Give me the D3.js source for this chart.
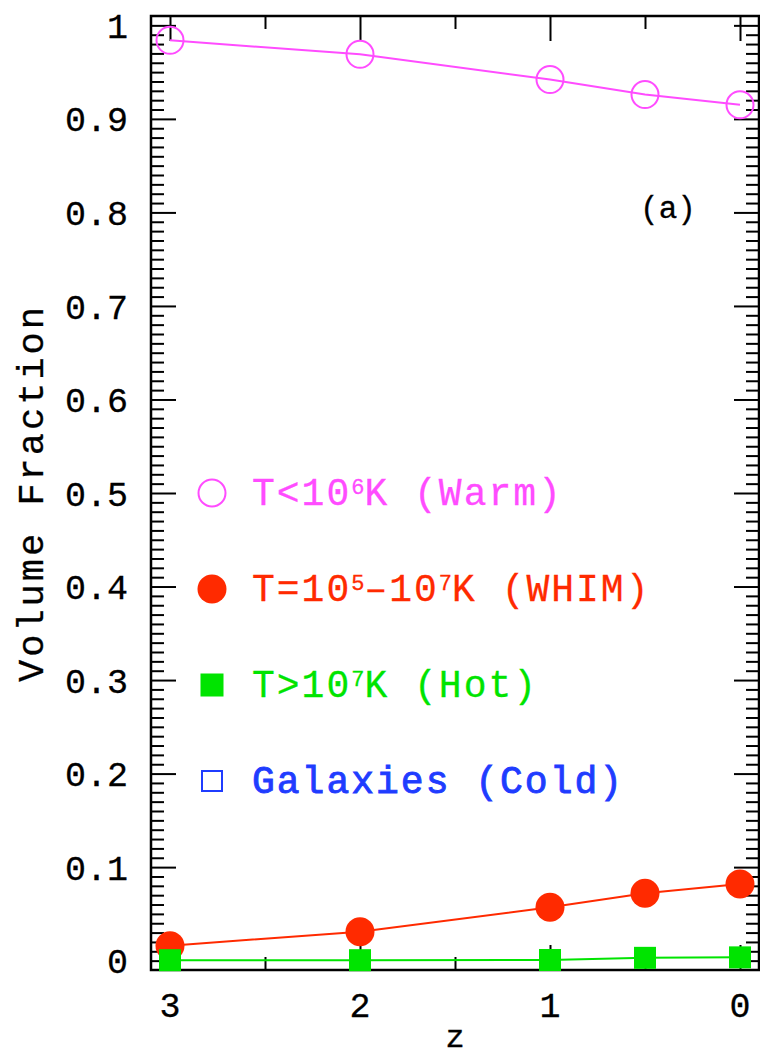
<!DOCTYPE html>
<html>
<head>
<meta charset="utf-8">
<script src="https://cdn.jsdelivr.net/npm/d3@7"></script>
<style>
  html, body { margin: 0; padding: 0; background: #fff; }
  svg { display: block; }
  text { font-family: "Liberation Mono", "DejaVu Sans Mono", monospace; }
</style>
</head>
<body>
<svg id="chart" width="760" height="1058"></svg>
<script>
// Redshift samples and volume fractions of each gas phase
const redshifts = [3, 2, 1, 0.5, 0];
const warmFraction = [0.984, 0.969, 0.942, 0.926, 0.915];
const whimFraction = [0.016, 0.031, 0.057, 0.072, 0.082];
const hotFraction = [0.0005, 0.0005, 0.0007, 0.0030, 0.0035];

// Axis ticks
const xMajorTicks = [3, 2, 1, 0];
const xTickLabels = ["3", "2", "1", "0"];
const xMinorTicks = [2.5, 1.5, 0.5];
const yMajorTicks = [0, 0.1, 0.2, 0.3, 0.4, 0.5, 0.6, 0.7, 0.8, 0.9, 1];
const yTickLabels = ["0", "0.1", "0.2", "0.3", "0.4", "0.5", "0.6", "0.7", "0.8", "0.9", "1"];
const yMinorTicks = d3.range(0, 101).filter(i => i % 10 !== 0).map(i => i / 100);

// Legend entries: text pieces, superscript flag
const legendNames = ["warm", "whim", "hot", "cold"];
const legendTexts = [
  [["T<10", false], ["6", true], ["K (Warm)", false]],
  [["T=10", false], ["5", true], ["\u201310", false], ["7", true], ["K (WHIM)", false]],
  [["T>10", false], ["7", true], ["K (Hot)", false]],
  [["Galaxies (Cold)", false]]
];
const legendColors = ["#ff4cff", "#ff2a00", "#00e400", "#1f3cff"];

const svg = d3.select("#chart");
const W = 760, H = 1058;
svg.append("rect").attr("width", W).attr("height", H).attr("fill", "#fff");

const plotLeft = 151, plotRight = 759, plotTop = 16, plotBottom = 970;
const x = d3.scaleLinear().domain([3.1, -0.1]).range([plotLeft, plotRight]);
const y = d3.scaleLinear().domain([-0.01, 1.01]).range([plotBottom, plotTop]);

const MAJ = 25, MIN = 13;
const axisG = svg.append("g");

function drawAxis(gen, transform) {
  const g = axisG.append("g").attr("transform", transform).call(gen);
  g.selectAll("text").remove();
  g.select(".domain").remove();
  g.selectAll("line").attr("stroke", "#000").attr("stroke-width", 2);
  return g;
}

// left / right ticks (pointing inward)
drawAxis(d3.axisLeft(y).tickValues(yMajorTicks).tickSize(-MAJ), `translate(${plotLeft},0)`);
drawAxis(d3.axisLeft(y).tickValues(yMinorTicks).tickSize(-MIN), `translate(${plotLeft},0)`);
drawAxis(d3.axisRight(y).tickValues(yMajorTicks).tickSize(-MAJ), `translate(${plotRight},0)`);
drawAxis(d3.axisRight(y).tickValues(yMinorTicks).tickSize(-MIN), `translate(${plotRight},0)`);
// bottom / top ticks
drawAxis(d3.axisBottom(x).tickValues(xMajorTicks).tickSize(-MAJ), `translate(0,${plotBottom})`);
drawAxis(d3.axisBottom(x).tickValues(xMinorTicks).tickSize(-MIN), `translate(0,${plotBottom})`);
drawAxis(d3.axisTop(x).tickValues(xMajorTicks).tickSize(-MAJ), `translate(0,${plotTop})`);
drawAxis(d3.axisTop(x).tickValues(xMinorTicks).tickSize(-MIN), `translate(0,${plotTop})`);

// frame
axisG.append("rect")
  .attr("x", plotLeft).attr("y", plotTop)
  .attr("width", plotRight - plotLeft).attr("height", plotBottom - plotTop)
  .attr("fill", "none").attr("stroke", "#000").attr("stroke-width", 2.5);

// tick labels
svg.append("g").selectAll("text").data(yMajorTicks).join("text")
  .attr("x", 128).attr("y", d => y(d)).attr("dy", "0.36em")
  .attr("text-anchor", "end").attr("font-size", 35)
  .attr("fill", "#000").attr("stroke", "#000").attr("stroke-width", 0.3)
  .text((d, i) => yTickLabels[i]);

svg.append("g").selectAll("text").data(xMajorTicks).join("text")
  .attr("x", d => x(d)).attr("y", 1017)
  .attr("text-anchor", "middle").attr("font-size", 35)
  .attr("fill", "#000").attr("stroke", "#000").attr("stroke-width", 0.3)
  .text((d, i) => xTickLabels[i]);

// axis titles
svg.append("text")
  .attr("transform", "translate(43,493) rotate(-90)")
  .attr("text-anchor", "middle").attr("font-size", 37)
  .attr("letter-spacing", 3)
  .attr("fill", "#000").attr("stroke", "#000").attr("stroke-width", 0.3)
  .text("Volume Fraction");
svg.append("text")
  .attr("x", 455).attr("y", 1047)
  .attr("text-anchor", "middle").attr("font-size", 32)
  .attr("fill", "#000").attr("stroke", "#000").attr("stroke-width", 0.3)
  .text("z");

// panel tag
svg.append("text")
  .attr("x", 668).attr("y", 218)
  .attr("text-anchor", "middle").attr("font-size", 31)
  .attr("fill", "#000").attr("stroke", "#000").attr("stroke-width", 0.3)
  .text("(a)");

// series lines and markers
const line = d3.line().x(d => x(d[0])).y(d => y(d[1]));
const dataG = svg.append("g");
function pts(vals) { return redshifts.map((z, i) => [z, vals[i]]); }

dataG.append("path").datum(pts(warmFraction)).attr("d", line)
  .attr("fill", "none").attr("stroke", legendColors[0]).attr("stroke-width", 2);
dataG.append("path").datum(pts(whimFraction)).attr("d", line)
  .attr("fill", "none").attr("stroke", legendColors[1]).attr("stroke-width", 2);
dataG.append("path").datum(pts(hotFraction)).attr("d", line)
  .attr("fill", "none").attr("stroke", legendColors[2]).attr("stroke-width", 2);

dataG.append("g").selectAll("circle").data(pts(warmFraction)).join("circle")
  .attr("cx", d => x(d[0])).attr("cy", d => y(d[1])).attr("r", 13.5)
  .attr("fill", "none").attr("stroke", legendColors[0]).attr("stroke-width", 2);
dataG.append("g").selectAll("circle").data(pts(whimFraction)).join("circle")
  .attr("cx", d => x(d[0])).attr("cy", d => y(d[1])).attr("r", 14.5)
  .attr("fill", legendColors[1]);
const SQ = 22;
dataG.append("g").selectAll("rect").data(pts(hotFraction)).join("rect")
  .attr("x", d => x(d[0]) - SQ / 2).attr("y", d => y(d[1]) - SQ / 2)
  .attr("width", SQ).attr("height", SQ)
  .attr("fill", legendColors[2]);

// legend
const legendX = 212, legendTextX = 252, legendY0 = 493, legendStep = 96;
const lg = svg.append("g");
legendNames.forEach((name, i) => {
  const cy = legendY0 + i * legendStep;
  const col = legendColors[i];
  if (name === "warm") {
    lg.append("circle").attr("cx", legendX).attr("cy", cy).attr("r", 13.5)
      .attr("fill", "none").attr("stroke", col).attr("stroke-width", 2);
  } else if (name === "whim") {
    lg.append("circle").attr("cx", legendX).attr("cy", cy).attr("r", 14.5).attr("fill", col);
  } else if (name === "hot") {
    lg.append("rect").attr("x", legendX - 11.5).attr("y", cy - 11.5)
      .attr("width", 23).attr("height", 23).attr("fill", col);
  } else {
    lg.append("rect").attr("x", legendX - 10).attr("y", cy - 10)
      .attr("width", 20).attr("height", 20)
      .attr("fill", "none").attr("stroke", col).attr("stroke-width", 2);
  }
  const t = lg.append("text")
    .attr("x", legendTextX).attr("y", cy + 12)
    .attr("font-size", 38).attr("letter-spacing", 2)
    .attr("fill", col)
    .attr("stroke", col).attr("stroke-width", name === "cold" ? 0.9 : 0.3);
  let raised = false;
  legendTexts[i].forEach(([s, sup]) => {
    const ts = t.append("tspan").text(s);
    if (sup && !raised) { ts.attr("dy", -11).attr("font-size", 22).attr("letter-spacing", 0); raised = true; }
    else if (!sup && raised) { ts.attr("dy", 11); raised = false; }
  });
});
</script>
</body>
</html>
